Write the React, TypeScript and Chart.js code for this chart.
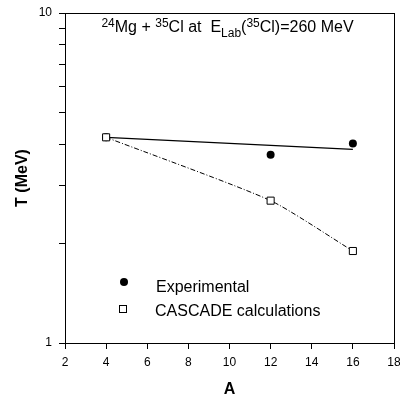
import React, { useEffect, useRef } from 'react';
import { Chart, registerables } from 'chart.js';

Chart.register(...registerables);

// ---- data ----
const massNumbers = [4, 12, 16];
const experimentalT = [4.2, 3.72, 4.02];
const cascadeT = [4.2, 2.7, 1.9];
const fitA = [4, 16];
const fitT = [4.2, 3.86];
const xMin = 2;
const xMax = 18;
const xStep = 2;
const yMin = 1;
const yMax = 10;
const yTickValues = [1, 2, 3, 4, 5, 6, 7, 8, 9, 10];
const yLabelled = [1, 10];
const legendLabels = ['Experimental', 'CASCADE calculations'];
const xTitle = 'A';
const yTitle = 'T (MeV)';
// title pieces: [text, kind]
const titleParts: [string, 'n' | 'sup' | 'sub'][] = [
  ['24', 'sup'],
  ['Mg + ', 'n'],
  ['35', 'sup'],
  ['Cl at  E', 'n'],
  ['Lab', 'sub'],
  ['(', 'n'],
  ['35', 'sup'],
  ['Cl)=260 MeV', 'n'],
];

const FONT = '"Liberation Sans", Arial, Helvetica, sans-serif';

const framePlugin = {
  id: 'frame',
  afterDraw(chart: any) {
    const { ctx, chartArea } = chart;
    const { left, top, right, bottom } = chartArea;
    ctx.save();
    ctx.strokeStyle = '#000';
    ctx.lineWidth = 1;
    ctx.strokeRect(Math.round(left) + 0.5, Math.round(top) + 0.5, Math.round(right - left), Math.round(bottom - top));

    // title annotation
    const big = 16;
    const small = 12;
    const baseY = 32;
    let total = 0;
    for (const [t, k] of titleParts) {
      ctx.font = `${k === 'n' ? big : small}px ${FONT}`;
      total += ctx.measureText(t).width;
    }
    let x = (left + right) / 2 - total / 2 - 2;
    ctx.fillStyle = '#000';
    ctx.textBaseline = 'alphabetic';
    ctx.textAlign = 'left';
    for (const [t, k] of titleParts) {
      ctx.font = `${k === 'n' ? big : small}px ${FONT}`;
      const y = k === 'sup' ? baseY - 5 : k === 'sub' ? baseY + 5 : baseY;
      ctx.fillText(t, x, y);
      x += ctx.measureText(t).width;
    }

    // legend
    ctx.font = `16px ${FONT}`;
    ctx.beginPath();
    ctx.arc(124, 282, 4, 0, Math.PI * 2);
    ctx.fill();
    ctx.fillText(legendLabels[0], 156, 291.5);
    ctx.fillStyle = '#fff';
    ctx.fillRect(119.5, 305.5, 7, 7);
    ctx.strokeRect(119.5, 305.5, 7, 7);
    ctx.fillStyle = '#000';
    ctx.fillText(legendLabels[1], 155, 316);
    ctx.restore();
  },
};

export default function App() {
  const ref = useRef<HTMLCanvasElement | null>(null);

  useEffect(() => {
    if (!ref.current) return;
    const toPts = (xs: number[], ys: number[]) => xs.map((a, i) => ({ x: a, y: ys[i] }));
    const chart = new Chart(ref.current, {
      type: 'scatter',
      data: {
        datasets: [
          {
            label: 'CASCADE markers',
            data: toPts(massNumbers, cascadeT),
            showLine: false,
            pointStyle: 'rect',
            pointRadius: 5,
            pointBackgroundColor: '#fff',
            pointBorderColor: '#000',
            pointBorderWidth: 1,
          },
          {
            label: 'Experimental',
            data: toPts(massNumbers, experimentalT),
            showLine: false,
            pointStyle: 'circle',
            pointRadius: 4,
            pointBackgroundColor: '#000',
            pointBorderColor: '#000',
            pointBorderWidth: 0,
          },
          {
            label: 'CASCADE curve',
            data: toPts(massNumbers, cascadeT),
            showLine: true,
            pointRadius: 0,
            borderColor: '#000',
            borderWidth: 1,
            borderDash: [5, 2, 1, 2],
            tension: 0.2,
            fill: false,
          },
          {
            label: 'Fit',
            data: toPts(fitA, fitT),
            showLine: true,
            pointRadius: 0,
            borderColor: '#000',
            borderWidth: 1.2,
            fill: false,
          },
        ],
      } as any,
      options: {
        animation: false,
        responsive: false,
        devicePixelRatio: 1,
        layout: { padding: { left: 0, right: 5, top: 13, bottom: 0 } },
        plugins: { legend: { display: false }, tooltip: { enabled: false }, title: { display: false } },
        scales: {
          x: {
            type: 'linear',
            min: xMin,
            max: xMax,
            border: { display: false },
            grid: { display: true, drawOnChartArea: false, drawTicks: true, tickLength: 6, color: '#000' },
            ticks: { stepSize: xStep, color: '#000', font: { family: FONT, size: 12 }, padding: 6, maxRotation: 0 },
            title: { display: true, text: xTitle, color: '#000', font: { family: FONT, size: 16, weight: 'bold' }, padding: { top: 0, bottom: 0 } },
            afterFit: (s: any) => {
              s.height = 56;
              s.paddingLeft = 0;
              s.paddingRight = 0;
            },
          },
          y: {
            type: 'logarithmic',
            min: yMin,
            max: yMax,
            border: { display: false },
            grid: { display: true, drawOnChartArea: false, drawTicks: true, tickLength: 6, color: '#000' },
            afterBuildTicks: (s: any) => {
              s.ticks = yTickValues.map((v) => ({ value: v, major: yLabelled.includes(v) }));
            },
            ticks: {
              color: '#000',
              font: { family: FONT, size: 12 },
              padding: 7,
              autoSkip: false,
              callback: (v: any) => (yLabelled.includes(Number(v)) ? String(v) : ''),
            },
            title: { display: true, text: yTitle, color: '#000', font: { family: FONT, size: 16, weight: 'bold' }, padding: { top: 13, bottom: 13 } },
            afterFit: (s: any) => {
              s.width = 65;
              s.paddingTop = 0;
              s.paddingBottom = 0;
            },
          },
        },
      } as any,
      plugins: [framePlugin],
    });
    return () => chart.destroy();
  }, []);

  return (
    <div style={{ position: 'absolute', left: 0, top: 0, width: 400, height: 399, background: '#fff' }}>
      <canvas ref={ref} width={400} height={399} style={{ width: 400, height: 399, display: 'block' }} />
    </div>
  );
}
